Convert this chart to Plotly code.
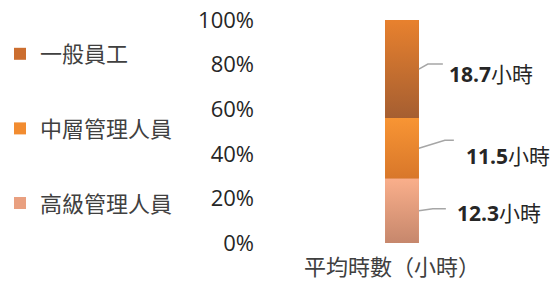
import plotly.graph_objects as go

# ---- data ----
categories = ["高級管理人員", "中層管理人員", "一般員工"]   # bottom -> top
hours = [12.3, 11.5, 18.7]
axis_title = "平均時數（小時）"
unit = "小時"
tick_vals = [0, 20, 40, 60, 80, 100]
tick_text = ["0%", "20%", "40%", "60%", "80%", "100%"]

# ---- styles ----
grad_bottom = ["#C6876C", "#D8772A", "#A55E31"]
grad_top = ["#FAAF8B", "#F89534", "#E8812E"]
legend_cols = ["#E9A080", "#F28C30", "#CC6E2F"]
ranks = [3, 2, 1]
label_dx = [36, 45, 28]
label_dy = [-2, -8, -5]
leader_pts = [[(14, -2), (27, -2)], [(26, -8), (35, -8)], [(9, -5), (24, -5)]]

FONT = "Open Sans, Noto Sans CJK TC, sans-serif"
BW = 1.0  # bar width in x units

total = sum(hours)
pcts = [h / total * 100 for h in hours]

fig = go.Figure()
for i, (name, h) in enumerate(zip(categories, hours)):
    fig.add_trace(go.Bar(
        x=[0], y=[h], width=BW, name=name,
        marker=dict(color=legend_cols[i], line=dict(width=0)),
        legendgroup=name, legendrank=ranks[i], hoverinfo="skip",
    ))
bases = []
b = 0
for p in pcts:
    bases.append(b)
    b += p
for i, name in enumerate(categories):
    y0, y1 = bases[i], bases[i] + pcts[i]
    fig.add_trace(go.Scatter(
        x=[-BW / 2, BW / 2, BW / 2, -BW / 2, -BW / 2],
        y=[y0, y0, y1, y1, y0],
        fill="toself", mode="lines", line=dict(width=0),
        fillgradient=dict(type="vertical",
                          colorscale=[[0, grad_bottom[i]], [1, grad_top[i]]]),
        showlegend=False, hoverinfo="skip",
    ))
    mid = y0 + pcts[i] / 2
    (ex, ey), (hx, hy) = leader_pts[i]
    fig.add_shape(type="path", xref="x", yref="y",
                  xsizemode="pixel", ysizemode="pixel",
                  xanchor=BW / 2, yanchor=mid,
                  path=f"M0,0 L{ex},{-ey} L{hx},{-hy}",
                  line=dict(color="#A6A6A6", width=1.5))
    fig.add_annotation(x=BW / 2, y=mid, xref="x", yref="y",
                       text=f"<b>{hours[i]}</b>{unit}", showarrow=False,
                       xanchor="left", yanchor="middle",
                       xshift=label_dx[i], yshift=label_dy[i],
                       font=dict(size=21, color="#262626", family=FONT))

fig.add_annotation(x=0, y=0, xref="x", yref="paper", yanchor="top",
                   text=axis_title, showarrow=False, yshift=-6, xshift=-10,
                   font=dict(size=22, color="#404040", family=FONT))

fig.update_layout(
    width=551, height=281,
    margin=dict(l=258, r=10, t=20, b=38, autoexpand=False),
    paper_bgcolor="white", plot_bgcolor="white",
    barmode="stack", barnorm="percent",
    showlegend=True,
    legend=dict(xref="container", yref="container", x=0.0, y=1 - 33 / 281,
                xanchor="left", yanchor="top", tracegroupgap=43,
                maxheight=281,
                font=dict(size=22, color="#404040", family=FONT),
                bgcolor="rgba(0,0,0,0)"),
    font=dict(family=FONT),
    xaxis=dict(range=[-145 / 34, 140 / 34], showticklabels=False,
               showgrid=False, zeroline=False, showline=False, ticks=""),
    yaxis=dict(range=[0, 100], tickvals=tick_vals, ticktext=tick_text,
               showgrid=False, zeroline=False, showline=False,
               ticklabelstandoff=3,
               tickfont=dict(size=22, color="#262626", family=FONT)),
)

fig.write_html("out.html",
               config={"displayModeBar": False},
               post_script="document.body.style.margin='0';")
